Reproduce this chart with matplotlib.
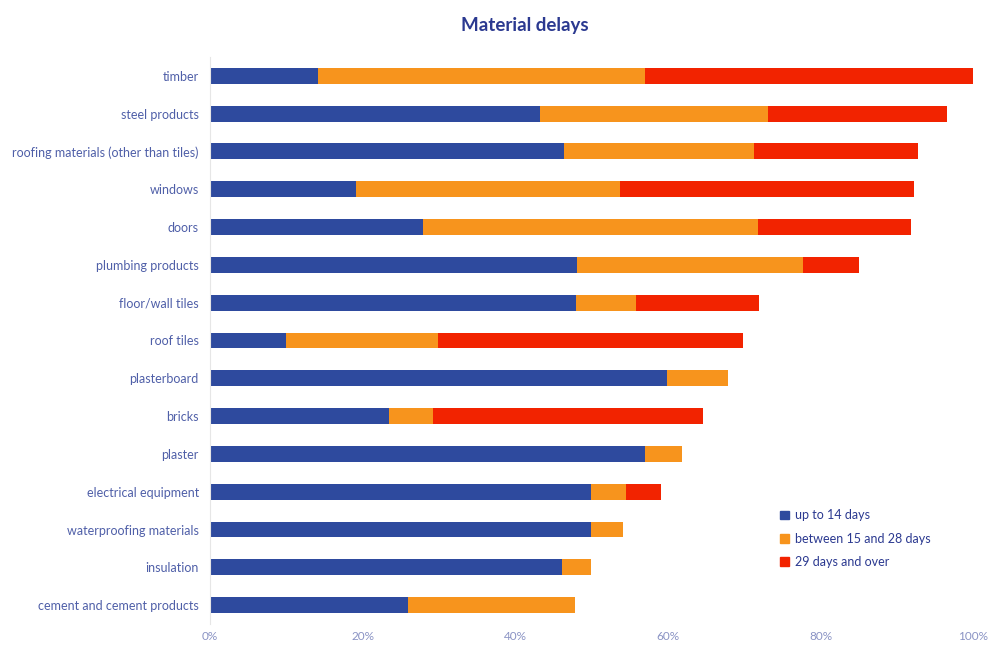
import matplotlib
matplotlib.use("Agg")
import matplotlib.pyplot as plt
from matplotlib.ticker import PercentFormatter
from matplotlib.patches import Patch

plt.rcParams['font.family'] = ['Lato', 'DejaVu Sans']

materials = ["timber", "steel products", "roofing materials (other than tiles)", "windows",
             "doors", "plumbing products", "floor/wall tiles", "roof tiles", "plasterboard",
             "bricks", "plaster", "electrical equipment", "waterproofing materials",
             "insulation", "cement and cement products"]
up_to_14 = [14.2, 43.3, 46.4, 19.1, 27.9, 48.1, 48.0, 10.0, 59.9, 23.5, 57.0, 49.9, 49.9, 46.1, 26.0]
days_15_28 = [42.8, 29.8, 24.9, 34.6, 43.9, 29.6, 7.8, 19.9, 8.0, 5.7, 4.9, 4.6, 4.2, 3.8, 21.8]
days_29_plus = [43.0, 23.5, 21.5, 38.6, 20.1, 7.4, 16.2, 40.0, 0.0, 35.4, 0.0, 4.6, 0.0, 0.0, 0.0]

series_names = ["up to 14 days", "between 15 and 28 days", "29 days and over"]
colors = ["#2E4A9E", "#F7941D", "#F22300"]
text_col = "#4F5FA8"

fig = plt.figure(figsize=(9.9, 6.46), dpi=100)
ax = fig.add_axes([0.212, 0.034, 0.771, 0.878])

ypos = range(len(materials))
left = [0.0] * len(materials)
for vals, col in zip([up_to_14, days_15_28, days_29_plus], colors):
    ax.barh(ypos, vals, left=left, height=0.42, color=col)
    left = [a + b for a, b in zip(left, vals)]

ax.set_ylim(len(materials) - 0.5, -0.5)
ax.set_xlim(0, 100)
ax.set_yticks(list(ypos))
ax.set_yticklabels(materials, color=text_col, fontsize=9)
ax.set_xticks([0, 20, 40, 60, 80, 100])
ax.xaxis.set_major_formatter(PercentFormatter(decimals=0))
ax.tick_params(axis='x', colors="#8A93C4", labelsize=8.5, length=0, pad=5)
ax.tick_params(axis='y', length=0, pad=8)
for s in ["top", "right", "bottom"]:
    ax.spines[s].set_visible(False)
ax.spines["left"].set_color("#E6E6E6")

fig.text(0.53, 0.96, "Material delays", ha="center", va="center",
         fontsize=13.5, fontweight="bold", color="#2B3990")

handles = [Patch(color=c, label=n) for c, n in zip(colors, series_names)]
leg = ax.legend(handles=handles, loc="upper left", bbox_to_anchor=(0.732, 0.222),
                frameon=False, fontsize=9, handlelength=0.7, handleheight=0.7,
                handletextpad=0.5, labelspacing=0.9)
for t in leg.get_texts():
    t.set_color("#2B3990")

fig.savefig("out.png", dpi=100)
